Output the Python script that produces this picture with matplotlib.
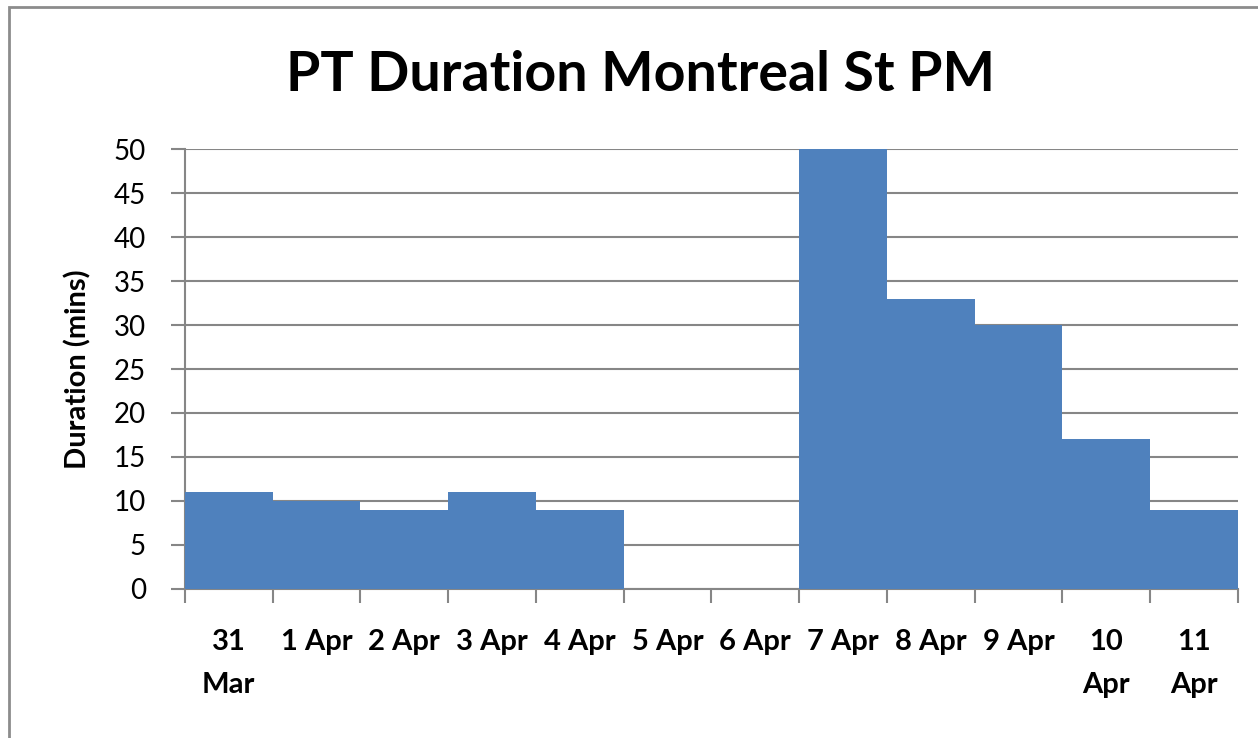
import matplotlib.pyplot as plt
from matplotlib.patches import Rectangle
import numpy as np

# data
days = ['31\nMar', '1 Apr', '2 Apr', '3 Apr', '4 Apr', '5 Apr', '6 Apr',
        '7 Apr', '8 Apr', '9 Apr', '10\nApr', '11\nApr']
duration = [11, 10, 9, 11, 9, 0, 0, 50, 33, 30, 17, 9]
yticks = [0, 5, 10, 15, 20, 25, 30, 35, 40, 45, 50]

plt.rcParams['font.family'] = ['Lato', 'DejaVu Sans']

fig = plt.figure(figsize=(12.58, 7.38), dpi=100)
ax = fig.add_axes([0.147, 0.2019, 0.837, 0.5962])

x = np.arange(len(days))
ax.bar(x, duration, width=1.0, color='#4F81BD', zorder=3)

ax.set_xlim(-0.5, len(days) - 0.5)
ax.set_ylim(0, 50)
ax.set_yticks(yticks)
ax.yaxis.grid(True, color='#868686', linewidth=1.5, zorder=0)

#-------------ticks: labels centred, tick marks on boundaries-------------------
ax.set_xticks(x)
ax.set_xticklabels(days, fontsize=21, fontweight='bold', linespacing=1.8)
ax.set_xticks(np.arange(-0.5, len(days)), minor=True)
ax.tick_params(axis='x', which='major', length=0, pad=29)
ax.tick_params(axis='x', which='minor', direction='out', length=10,
               width=1.5, color='#868686')
ax.tick_params(axis='y', direction='out', length=10, width=1.5,
               color='#868686', labelsize=20, pad=18)

for s in ['top', 'right']:
    ax.spines[s].set_visible(False)
for s in ['left', 'bottom']:
    ax.spines[s].set_color('#868686')
    ax.spines[s].set_linewidth(1.5)

ax.set_ylabel('Duration (mins)', fontsize=21, fontweight='bold', labelpad=16)
fig.text(0.509, 0.898, 'PT Duration Montreal St PM', fontsize=40,
         fontweight='bold', ha='center', va='center')

# outer chart border
fig.patches.append(Rectangle((9 / 1258, -0.05), 1.2, 1 - 7 / 738 + 0.05,
                             transform=fig.transFigure, fill=False,
                             edgecolor='#8c8c8c', linewidth=2))

plt.savefig('out.png', dpi=100)
